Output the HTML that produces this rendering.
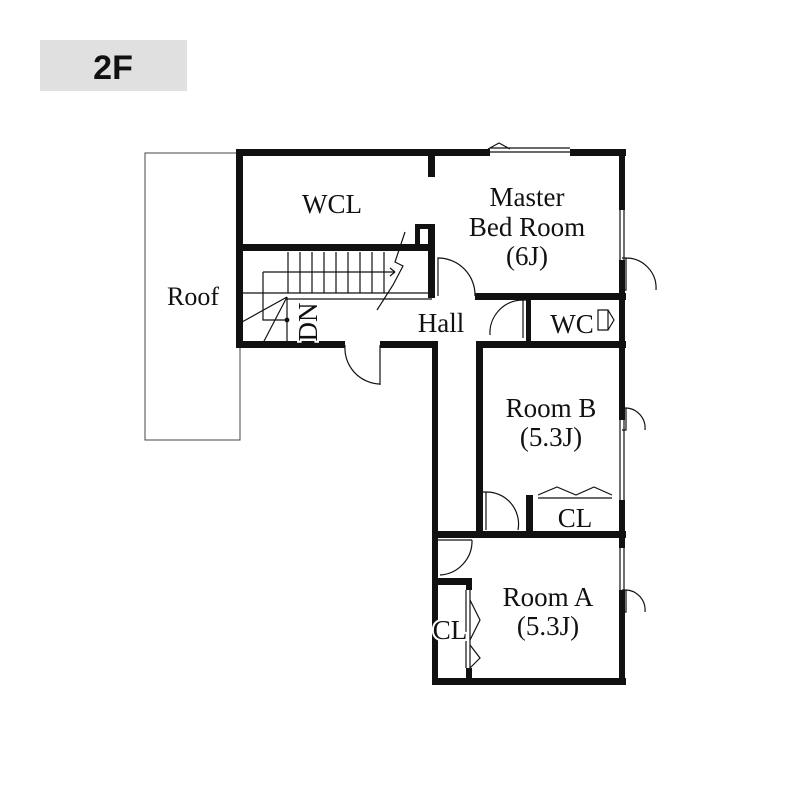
<!DOCTYPE html>
<html><head><meta charset="utf-8"><style>
html,body{margin:0;padding:0;background:#fff}
svg{display:block}
text{font-family:"Liberation Serif",serif;fill:#111}
</style></head><body>
<svg width="800" height="800" viewBox="0 0 800 800">
<rect x="0" y="0" width="800" height="800" fill="#fff"/>
<rect x="40" y="40" width="147" height="51" fill="#e0e0e0"/>
<text x="113" y="79" text-anchor="middle" style="font-family:'Liberation Sans',sans-serif;font-weight:bold;font-size:34px">2F</text>

<!-- roof -->
<rect x="145" y="153" width="95" height="287" fill="#fff" stroke="#444" stroke-width="1"/>
<text x="193" y="305" text-anchor="middle" font-size="26">Roof</text>

<g stroke="#111" stroke-width="1.2" fill="none">
<!-- stairs -->
<path d="M288 252V293M300 252V293M312 252V293M324 252V293M336 252V293M348 252V293M360 252V293M372 252V293M384 252V293"/>
<path d="M242 293H432M287 299H432M263 272H395M263 272V320H287M287 297V345M287 297L242 322M287 297L262 345"/>
<path d="M395 272l-5 -4M395 272l-5 4M405 232L395 262L403 266L393 285L377 310"/>
<circle cx="287" cy="320" r="1.8" fill="#111"/>
<!-- doors -->
<path d="M438 296V258A37 37 0 0 1 475 296"/>
<path d="M622 258H626V290H622M626 258A30 30 0 0 1 656 290"/>
<path d="M528 300H523V338M523 300A33 33 0 0 0 490 335"/>
<path d="M345 345A36 36 0 0 0 380 384M380 345V385"/>
<path d="M482 492H486V530M486 492A32 32 0 0 1 518 530"/>
<path d="M438 540H472M472 540A34 34 0 0 1 440 575"/>
<path d="M622 408H626V430H622M626 408A20 20 0 0 1 645 430"/>
<path d="M622 590H626V612H622M626 590A20 20 0 0 1 645 612"/>
<!-- windows -->
<path d="M620 210V260M624 210V260M620 420V500M624 420V500M620 548V590M624 548V590"/>
<path d="M490 148H570M490 152H570M488 149L499 143L510 149"/>
<!-- WC door small -->
<path d="M598 310V330H608V310ZM608 310L614 320L608 330"/>
<!-- CL folding B -->
<path d="M538 498H612M538 495L557 487L576 495L594 487L612 495"/>
<!-- CL folding A -->
<path d="M466 590V668M470 590V668M470 600L480 620L470 640M470 645L480 658L470 668"/>
</g>

<g fill="#111">
<rect x="236" y="149" width="254" height="7"/>
<rect x="570" y="149" width="56" height="7"/>
<rect x="236" y="149" width="7" height="199"/>
<rect x="236" y="244" width="196" height="7"/>
<rect x="236" y="341" width="109" height="7"/>
<rect x="380" y="341" width="56" height="7"/>
<rect x="428" y="149" width="7" height="28"/>
<rect x="428" y="224" width="7" height="74"/>
<rect x="415" y="224" width="17" height="5"/>
<rect x="415" y="224" width="5" height="24"/>
<rect x="475" y="293" width="151" height="7"/>
<rect x="619" y="149" width="6" height="61"/>
<rect x="619" y="260" width="6" height="160"/>
<rect x="619" y="500" width="6" height="48"/>
<rect x="619" y="590" width="6" height="95"/>
<rect x="526" y="296" width="5" height="52"/>
<rect x="476" y="341" width="150" height="7"/>
<rect x="432" y="341" width="6" height="344"/>
<rect x="476" y="341" width="7" height="197"/>
<rect x="432" y="531" width="194" height="7"/>
<rect x="526" y="495" width="7" height="40"/>
<rect x="432" y="578" width="40" height="7"/>
<rect x="466" y="578" width="6" height="12"/>
<rect x="466" y="668" width="6" height="14"/>
<rect x="432" y="678" width="194" height="7"/>
</g>

<g font-size="27">
<text x="332" y="213" text-anchor="middle">WCL</text>
<text x="527" y="206" text-anchor="middle">Master</text>
<text x="527" y="236" text-anchor="middle">Bed Room</text>
<text x="527" y="265" text-anchor="middle">(6J)</text>
<text x="441" y="332" text-anchor="middle">Hall</text>
<text x="572" y="333" text-anchor="middle">WC</text>
<text x="551" y="417" text-anchor="middle">Room B</text>
<text x="551" y="446" text-anchor="middle">(5.3J)</text>
<text x="575" y="527" text-anchor="middle">CL</text>
<text x="548" y="606" text-anchor="middle">Room A</text>
<text x="548" y="635" text-anchor="middle">(5.3J)</text>
<text x="450" y="639" text-anchor="middle" stroke="#fff" stroke-width="4" paint-order="stroke">CL</text>
<text transform="translate(317,322) rotate(-90)" text-anchor="middle" stroke="#fff" stroke-width="4" paint-order="stroke">DN</text>
</g>
</svg>
</body></html>
